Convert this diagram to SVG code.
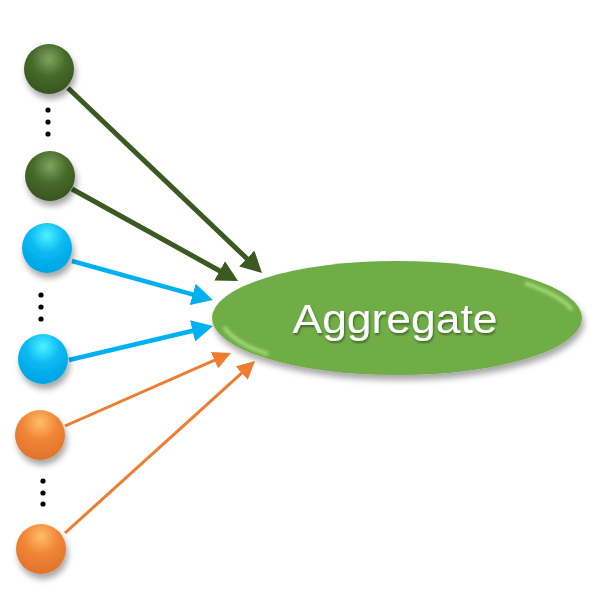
<svg xmlns="http://www.w3.org/2000/svg" width="600" height="607" viewBox="0 0 600 607">
<style>
.conn{fill:none;}
.g{stroke:#3b5a21;stroke-width:5;}
.b{stroke:#00b0f0;stroke-width:4.5;}
.o{stroke:#ed7d31;stroke-width:3;}
.dot{fill:#000;}
.lbl{font-family:"Liberation Sans",Arial,sans-serif;font-size:41px;fill:#fff;}
.hl{fill:none;stroke:#a8dc80;stroke-width:4;opacity:0.85;}
</style>
<defs>
<filter id="sh" x="-50%" y="-50%" width="200%" height="200%">
<feDropShadow dx="2" dy="5" stdDeviation="3" flood-color="#000" flood-opacity="0.35"/>
</filter>
<filter id="tsh" x="-10%" y="-20%" width="120%" height="150%">
<feDropShadow dx="1" dy="2" stdDeviation="1" flood-color="#000" flood-opacity="0.4"/>
</filter>
<filter id="blur" x="-20%" y="-50%" width="140%" height="200%"><feGaussianBlur stdDeviation="1.8"/></filter>
<radialGradient id="gg" cx="0.5" cy="0.3" r="0.7">
<stop offset="0" stop-color="#7fa35f"/><stop offset="0.5" stop-color="#466a2a"/><stop offset="1" stop-color="#375520"/>
</radialGradient>
<radialGradient id="bg" cx="0.5" cy="0.25" r="0.7">
<stop offset="0" stop-color="#4ef2ff"/><stop offset="0.5" stop-color="#0ab8f2"/><stop offset="1" stop-color="#00a6e4"/>
</radialGradient>
<radialGradient id="og" cx="0.5" cy="0.25" r="0.7">
<stop offset="0" stop-color="#ffbd6a"/><stop offset="0.5" stop-color="#f08636"/><stop offset="1" stop-color="#e2752c"/>
</radialGradient>
<marker id="mg" markerUnits="userSpaceOnUse" viewBox="0 0 22 22" markerWidth="22" markerHeight="22" refX="9" refY="11" orient="auto"><path d="M0,0 L21,11 L0,22 z" fill="#3b5a21"/></marker>
<marker id="mb" markerUnits="userSpaceOnUse" viewBox="0 0 22 22" markerWidth="22" markerHeight="22" refX="9" refY="11" orient="auto"><path d="M0,0 L21,11 L0,22 z" fill="#00b0f0"/></marker>
<marker id="mo" markerUnits="userSpaceOnUse" viewBox="0 0 18 18" markerWidth="18" markerHeight="18" refX="7" refY="9" orient="auto"><path d="M0,0 L18,9 L0,18 z" fill="#ed7d31"/></marker>
</defs>
<rect width="600" height="607" fill="#fff"/>
<g id="connectors">
<line class="conn g" x1="68" y1="88" x2="253.3" y2="264.7" marker-end="url(#mg)"/>
<line class="conn g" x1="72" y1="189" x2="227.5" y2="275.2" marker-end="url(#mg)"/>
<line class="conn b" x1="72" y1="261" x2="201.4" y2="296.8" marker-end="url(#mb)"/>
<line class="conn b" x1="69" y1="360" x2="201.3" y2="328.8" marker-end="url(#mb)"/>
<line class="conn o" x1="65" y1="426" x2="220.9" y2="357.4" marker-end="url(#mo)"/>
<line class="conn o" x1="65" y1="533" x2="246.9" y2="368.4" marker-end="url(#mo)"/>
</g>
<g id="aggregate">
<ellipse cx="397" cy="318" rx="185" ry="57" fill="#70ad47" filter="url(#sh)"/>
<path class="hl" d="M224,327 Q236,344 268,354" filter="url(#blur)"/>
<path class="hl" d="M525,283 Q562,296 572,310" filter="url(#blur)"/>
<text class="lbl" x="395" y="333" text-anchor="middle" textLength="205" lengthAdjust="spacingAndGlyphs" filter="url(#tsh)">Aggregate</text>
</g>
<g id="green1"><circle cx="49" cy="69" r="25" fill="url(#gg)" filter="url(#sh)"/></g>
<g id="green-dots"><circle class="dot" cx="48" cy="110" r="2.6"/><circle class="dot" cx="48" cy="122" r="2.6"/><circle class="dot" cx="48" cy="134" r="2.6"/></g>
<g id="green2"><circle cx="50" cy="176" r="25" fill="url(#gg)" filter="url(#sh)"/></g>
<g id="blue1"><circle cx="47" cy="248" r="25" fill="url(#bg)" filter="url(#sh)"/></g>
<g id="blue-dots"><circle class="dot" cx="41" cy="295" r="2.6"/><circle class="dot" cx="41" cy="307" r="2.6"/><circle class="dot" cx="41" cy="319" r="2.6"/></g>
<g id="blue2"><circle cx="43" cy="359" r="25" fill="url(#bg)" filter="url(#sh)"/></g>
<g id="orange1"><circle cx="40" cy="435" r="25" fill="url(#og)" filter="url(#sh)"/></g>
<g id="orange-dots"><circle class="dot" cx="43" cy="481" r="2.6"/><circle class="dot" cx="43" cy="493" r="2.6"/><circle class="dot" cx="43" cy="504" r="2.6"/></g>
<g id="orange2"><circle cx="41" cy="549" r="25" fill="url(#og)" filter="url(#sh)"/></g>
</svg>
